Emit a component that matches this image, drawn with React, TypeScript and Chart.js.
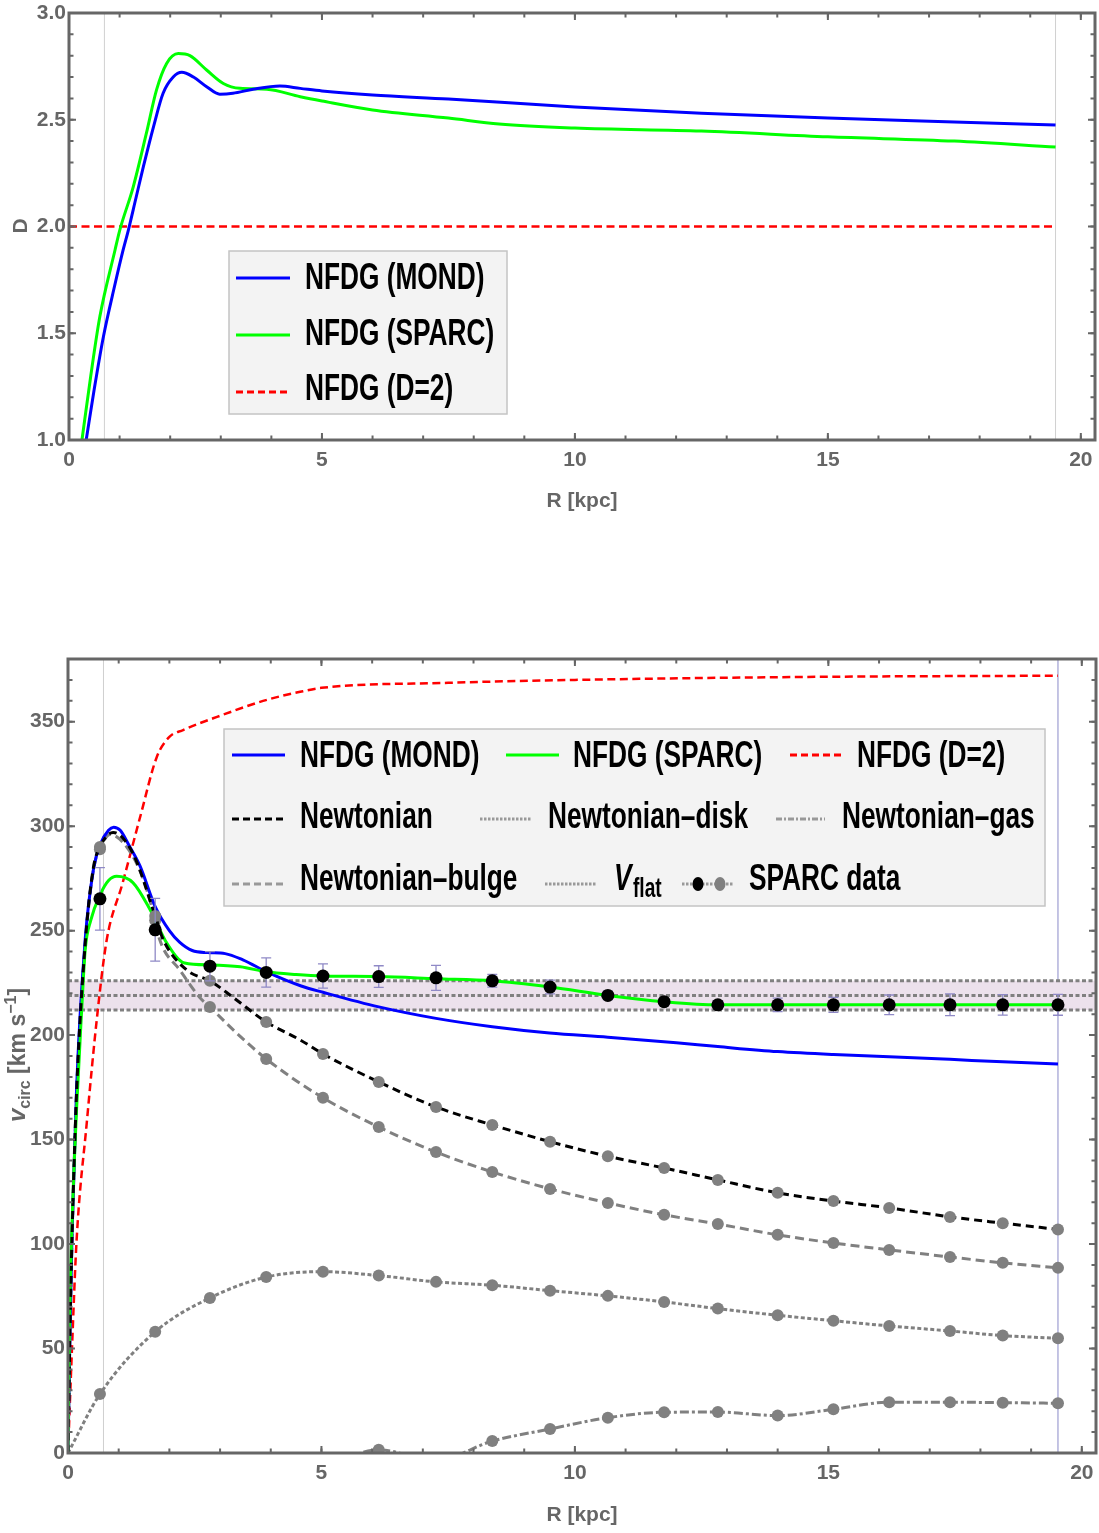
import React, { useEffect, useRef } from "react";
import { Chart, registerables } from "chart.js";

Chart.register(...registerables);

// ================= shared axis values =================
const X_MAX = 20.28;
const X_TICKS = [0, 5, 10, 15, 20];

// ================= TOP PANEL: D(R) =================
const R_MOND_D = [0.3, 0.34, 0.5, 0.68, 0.9, 1.07, 1.17, 1.32, 1.47, 1.67, 1.86, 2.06, 2.23, 2.46, 2.72, 2.98, 3.24, 3.64, 4.17, 4.57, 5, 6, 7.5, 10, 12.5, 15, 17.5, 19.5];
const D_MOND = [0.94, 1.0, 1.24, 1.484, 1.72, 1.89, 1.98, 2.13, 2.28, 2.467, 2.624, 2.7, 2.722, 2.7, 2.655, 2.62, 2.624, 2.643, 2.658, 2.647, 2.635, 2.616, 2.597, 2.56, 2.53, 2.508, 2.49, 2.475];
const R_SPARC_D = [0.22, 0.26, 0.43, 0.61, 0.91, 1.0, 1.27, 1.53, 1.73, 1.93, 2.16, 2.39, 2.72, 3.05, 3.38, 3.91, 4.57, 5, 6, 7.5, 8.5, 10, 12.5, 15, 17.5, 19.5];
const D_SPARC = [0.94, 1.007, 1.3, 1.578, 1.89, 1.98, 2.186, 2.437, 2.64, 2.764, 2.81, 2.8, 2.733, 2.67, 2.647, 2.643, 2.608, 2.588, 2.546, 2.508, 2.48, 2.461, 2.447, 2.42, 2.4, 2.372];
const R_D2_TOP = [0, 19.5];
const D_D2_TOP = [2, 2];
const D_TICKS = [1.0, 1.5, 2.0, 2.5, 3.0];
const TOP_GRID_R = [0.7, 19.5];

// ================= BOTTOM PANEL: v_circ(R) =================
const R_DATA = [0.63, 1.72, 2.8, 3.91, 5.03, 6.13, 7.26, 8.37, 9.51, 10.65, 11.76, 12.82, 14.0, 15.1, 16.2, 17.4, 18.44, 19.53];
const V_OBS = [265.2, 250.4, 233, 230, 228.3, 228, 227.4, 226, 223, 219, 216, 214.5, 214.5, 214.5, 214.5, 214.5, 214.5, 214.5];
const V_ERR = [15, 15, 7, 7, 5.8, 5.2, 6, 3, 3.3, 2, 1.5, 2, 3.2, 3.6, 4.7, 5.2, 4.9, 5];
const V_NEWTON = [290, 257, 226, 206.3, 191, 177.6, 165.6, 157, 149, 142, 136.4, 130.7, 124.5, 120.6, 117.3, 113, 110, 107];
const V_BULGE = [289, 255, 213.5, 188.6, 170, 156, 144, 134.5, 126.4, 119.7, 114, 109.6, 104.4, 100.5, 97.2, 93.8, 91, 88.6];
const V_DISK = [28.2, 58, 74.2, 84.2, 86.8, 84.9, 81.9, 80.3, 77.7, 75.2, 72.3, 69.1, 65.9, 63.3, 60.8, 58.4, 56.2, 54.9];
const V_GAS = [-8, -14, -16, -14, -7, 1.5, -3.5, 5.7, 11.5, 16.9, 19.5, 19.6, 17.9, 20.9, 24.3, 24.3, 24.1, 23.8];

// interpolating curve points (no markers)
const NEWTON_CURVE_R = [0, 0.04, 0.08, 0.17, 0.34, 0.5, 0.89, 1.28, 1.88, 2.35, 3.26, 4.58];
const NEWTON_CURVE_V = [0, 60, 104, 173, 244, 280, 297, 287, 245.6, 231, 218, 197.7];
const BULGE_CURVE_R = [0, 0.04, 0.08, 0.17, 0.34, 0.5, 0.83, 1.16, 1.48, 1.81, 2.21, 2.6, 3.26];
const BULGE_CURVE_V = [0, 60, 103, 172, 243, 279, 296, 290, 275, 245.6, 231, 218, 202.5];
const DISK_CURVE_R = [0];
const DISK_CURVE_V = [0];

const R_MOND_V = [0, 0.04, 0.08, 0.17, 0.34, 0.5, 0.63, 0.8, 0.9, 1.03, 1.2, 1.42, 1.72, 2.0, 2.2, 2.45, 2.75, 3.1, 3.45, 3.94, 4.6, 5.03, 6.13, 7.26, 8.37, 9.5, 10.65, 12.0, 12.82, 14.0, 15.1, 16.2, 17.4, 18.44, 19.53];
const V_MOND = [0, 60, 105, 175, 246, 279, 291, 298, 299.5, 298, 291, 281, 261.5, 250, 244.5, 240.5, 239.5, 239, 236, 230, 223.5, 220.5, 213.5, 208, 204, 201, 199, 196.3, 194.5, 192.1, 190.7, 189.7, 188.4, 187.2, 186.2];
const R_SPARC_V = [0, 0.03, 0.07, 0.17, 0.27, 0.34, 0.45, 0.63, 0.8, 0.96, 1.28, 1.62, 1.95, 2.3, 2.8, 3.4, 3.91, 4.5, 5.03, 6.13, 7.26, 8.37, 9.51, 10.65, 11.76, 12.82, 14, 16, 18, 19.53];
const V_SPARC = [0, 60, 102, 165, 212, 241, 255, 267, 274, 276, 273, 260, 244, 234.5, 233.6, 232.7, 230.3, 229, 228.3, 228, 227, 226, 223, 219, 216, 214.5, 214.5, 214.5, 214.5, 214.5];
const R_D2_V = [0, 0.08, 0.17, 0.37, 0.57, 0.76, 1.08, 1.43, 1.75, 2.0, 2.27, 2.94, 3.93, 4.58, 5.0, 7.5, 10, 15, 19.53];
const V_D2 = [0, 51, 102, 158, 208, 245, 273, 305, 333, 342.7, 346, 352.3, 360.5, 364.3, 366.2, 368.6, 370, 371.5, 372];

const V_FLAT = 219;
const V_FLAT_ERR = 7;
const V_MAX = 380;
const V_TICKS = [0, 50, 100, 150, 200, 250, 300, 350];
const BOT_GRID_R = [0.7];
const BOT_LAST_R = [19.53];

// ================= styles =================
const BLUE = "#0000ff";
const GREEN = "#00ff00";
const RED = "#ff0000";
const GRAY = "#808080";
const FRAME = "#666666";
const FAM = "'Liberation Sans', Arial, sans-serif";
const TICKFONT = { family: FAM, size: 21, weight: "bold" as const };
const LEG_FONT = "bold 37px " + FAM;
const LEG_SX = 0.71;

const pts = (xs: number[], ys: number[]) => xs.map((x, i) => ({ x, y: ys[i] }));
const merged = (cr: number[], cv: number[], dr: number[], dv: number[]) =>
  [...cr.map((x, i) => ({ x, y: cv[i], m: false })), ...dr.map((x, i) => ({ x, y: dv[i], m: true }))].sort((a, b) => a.x - b.x);

type Sample = { color: string; width: number; dash: number[]; dots?: [number, string][] };
type LegItem = { x0: number; x1: number; y: number; tx: number; ty: number; text: string; sample: Sample; sub?: string };
type Legend = { box: [number, number, number, number]; items: LegItem[] };

function drawLegend(ctx: CanvasRenderingContext2D, leg: Legend) {
  ctx.save();
  const [bx, by, bw, bh] = leg.box;
  ctx.fillStyle = "#f3f3f3";
  ctx.fillRect(bx, by, bw, bh);
  ctx.strokeStyle = "#c4c4c4";
  ctx.lineWidth = 1.5;
  ctx.strokeRect(bx, by, bw, bh);
  for (const it of leg.items) {
    const s = it.sample;
    ctx.save();
    ctx.strokeStyle = s.color;
    ctx.lineWidth = s.width;
    ctx.setLineDash(s.dash);
    ctx.beginPath();
    ctx.moveTo(it.x0, it.y);
    ctx.lineTo(it.x1, it.y);
    ctx.stroke();
    ctx.setLineDash([]);
    if (s.dots) {
      for (const [dx, c] of s.dots) {
        ctx.fillStyle = c;
        ctx.beginPath();
        ctx.ellipse(dx, it.y, 5.5, 7, 0, 0, Math.PI * 2);
        ctx.fill();
      }
    }
    ctx.restore();
    ctx.save();
    ctx.fillStyle = "#000";
    ctx.textBaseline = "alphabetic";
    ctx.textAlign = "left";
    ctx.translate(it.tx, it.ty);
    ctx.scale(LEG_SX, 1);
    if (it.sub) {
      ctx.font = "italic " + LEG_FONT;
      ctx.fillText(it.text, 0, 0);
      const w = ctx.measureText(it.text).width;
      ctx.font = "bold 27px " + FAM;
      ctx.fillText(it.sub, w + 2, 7);
    } else {
      ctx.font = LEG_FONT;
      ctx.fillText(it.text, 0, 0);
    }
    ctx.restore();
  }
  ctx.restore();
}

type Part = { t: string; font: string; dy: number };
function drawRich(ctx: CanvasRenderingContext2D, parts: Part[], cx: number, base: number) {
  let w = 0;
  for (const p of parts) {
    ctx.font = p.font;
    w += ctx.measureText(p.t).width;
  }
  let x = cx - w / 2;
  for (const p of parts) {
    ctx.font = p.font;
    ctx.fillText(p.t, x, base + p.dy);
    x += ctx.measureText(p.t).width;
  }
}

type Deco = {
  grid: { r: number; color: string }[];
  xMinorStep: number;
  yMinorStep: number;
  xMajor: number[];
  yMajor: number[];
  legend: Legend;
  xTitleY: number;
  yTitle: { x: number; y: number; parts: Part[] };
  errIndex?: number;
};

function decoPlugin(d: Deco) {
  return {
    id: "deco",
    beforeDatasetsDraw(chart: any) {
      const { ctx, chartArea: a, scales } = chart;
      ctx.save();
      for (const g of d.grid) {
        const px = scales.x.getPixelForValue(g.r);
        ctx.strokeStyle = g.color;
        ctx.lineWidth = 1;
        ctx.beginPath();
        ctx.moveTo(px, a.top);
        ctx.lineTo(px, a.bottom);
        ctx.stroke();
      }
      ctx.restore();
    },
    beforeDatasetDraw(chart: any, args: any) {
      if (d.errIndex === undefined || args.index !== d.errIndex) return;
      const { ctx, scales } = chart;
      ctx.save();
      ctx.strokeStyle = "#8f89c6";
      ctx.lineWidth = 1.3;
      R_DATA.forEach((r, i) => {
        const px = scales.x.getPixelForValue(r);
        const y1 = scales.y.getPixelForValue(V_OBS[i] + V_ERR[i]);
        const y2 = scales.y.getPixelForValue(V_OBS[i] - V_ERR[i]);
        ctx.beginPath();
        ctx.moveTo(px, y1);
        ctx.lineTo(px, y2);
        ctx.moveTo(px - 5, y1);
        ctx.lineTo(px + 5, y1);
        ctx.moveTo(px - 5, y2);
        ctx.lineTo(px + 5, y2);
        ctx.stroke();
      });
      ctx.restore();
    },
    afterDraw(chart: any) {
      const { ctx, chartArea: a, scales } = chart;
      const xs = scales.x;
      const ys = scales.y;
      drawLegend(ctx, d.legend);
      ctx.save();
      // frame
      ctx.strokeStyle = FRAME;
      ctx.lineWidth = 3;
      ctx.strokeRect(a.left, a.top, a.right - a.left, a.bottom - a.top);
      // ticks
      ctx.lineWidth = 2;
      const xTick = (v: number, len: number) => {
        const px = xs.getPixelForValue(v);
        ctx.beginPath();
        ctx.moveTo(px, a.bottom);
        ctx.lineTo(px, a.bottom - len);
        ctx.moveTo(px, a.top);
        ctx.lineTo(px, a.top + len);
        ctx.stroke();
      };
      const yTick = (v: number, len: number) => {
        const py = ys.getPixelForValue(v);
        ctx.beginPath();
        ctx.moveTo(a.left, py);
        ctx.lineTo(a.left + len, py);
        ctx.moveTo(a.right, py);
        ctx.lineTo(a.right - len, py);
        ctx.stroke();
      };
      for (let v = xs.min; v <= xs.max + 1e-9; v += d.xMinorStep) xTick(v, 4.5);
      for (const v of d.xMajor) xTick(v, 7);
      const n = Math.round((ys.max - ys.min) / d.yMinorStep);
      for (let k = 0; k <= n; k++) yTick(ys.min + k * d.yMinorStep, 4.5);
      for (const v of d.yMajor) yTick(v, 7);
      // titles
      ctx.fillStyle = "#666";
      ctx.textAlign = "left";
      ctx.textBaseline = "alphabetic";
      drawRich(ctx, [{ t: "R [kpc]", font: "bold 21px " + FAM, dy: 0 }], (a.left + a.right) / 2, d.xTitleY);
      ctx.translate(d.yTitle.x, d.yTitle.y);
      ctx.rotate(-Math.PI / 2);
      drawRich(ctx, d.yTitle.parts, 0, 8);
      ctx.restore();
    },
  };
}

function baseOptions(xAxisH: number, yAxisW: number, pad: any, yMin: number, yMax: number, yTicks: number[], yFmt: (v: number) => string) {
  return {
    responsive: false,
    animation: false as const,
    devicePixelRatio: 1,
    events: [],
    layout: { padding: pad, autoPadding: false },
    plugins: { legend: { display: false }, tooltip: { enabled: false }, title: { display: false } },
    scales: {
      x: {
        type: "linear" as const,
        min: 0,
        max: X_MAX,
        border: { display: false },
        grid: { display: false, drawTicks: false },
        afterBuildTicks: (s: any) => {
          s.ticks = X_TICKS.map((v) => ({ value: v }));
        },
        afterFit: (s: any) => {
          s.height = xAxisH;
          s.paddingLeft = 0;
          s.paddingRight = 0;
        },
        ticks: { color: "#666", font: TICKFONT, padding: 8, maxRotation: 0, autoSkip: false, callback: (v: any) => String(v) },
      },
      y: {
        type: "linear" as const,
        min: yMin,
        max: yMax,
        border: { display: false },
        grid: { display: false, drawTicks: false },
        afterBuildTicks: (s: any) => {
          s.ticks = yTicks.map((v) => ({ value: v }));
        },
        afterFit: (s: any) => {
          s.width = yAxisW;
          s.paddingTop = 0;
          s.paddingBottom = 0;
        },
        ticks: { color: "#666", font: TICKFONT, padding: 3, autoSkip: false, callback: (v: any) => yFmt(Number(v)) },
      },
    },
  };
}

const lineDs = (data: any[], color: string, width: number, dash: number[], extra: any = {}) => ({
  data,
  borderColor: color,
  backgroundColor: color,
  borderWidth: width,
  borderDash: dash,
  pointRadius: 0,
  fill: false,
  cubicInterpolationMode: "monotone" as const,
  ...extra,
});

const markerDs = (data: any[], color: string, dash: number[]) =>
  lineDs(data, color, 3, dash, {
    pointRadius: (c: any) => (c.raw && c.raw.m ? 6 : 0),
    pointBackgroundColor: GRAY,
    pointBorderColor: GRAY,
    pointBorderWidth: 0,
  });

const TOP_LEGEND: Legend = {
  box: [229, 251, 278, 163],
  items: [
    { x0: 236, x1: 290, y: 278, tx: 305, ty: 289, text: "NFDG (MOND)", sample: { color: BLUE, width: 3, dash: [] } },
    { x0: 236, x1: 290, y: 335, tx: 305, ty: 345, text: "NFDG (SPARC)", sample: { color: GREEN, width: 3, dash: [] } },
    { x0: 236, x1: 290, y: 392, tx: 305, ty: 400, text: "NFDG (D=2)", sample: { color: RED, width: 3, dash: [7, 4] } },
  ],
};

const BO = 600; // bottom canvas offset on the page
const BOT_LEGEND: Legend = {
  box: [224, 729 - BO, 821, 177],
  items: [
    { x0: 232, x1: 285, y: 755 - BO, tx: 300, ty: 767 - BO, text: "NFDG (MOND)", sample: { color: BLUE, width: 3, dash: [] } },
    { x0: 506, x1: 559, y: 755 - BO, tx: 573, ty: 767 - BO, text: "NFDG (SPARC)", sample: { color: GREEN, width: 3, dash: [] } },
    { x0: 790, x1: 842, y: 755 - BO, tx: 857, ty: 767 - BO, text: "NFDG (D=2)", sample: { color: RED, width: 3, dash: [7, 4] } },
    { x0: 232, x1: 284, y: 819 - BO, tx: 300, ty: 828 - BO, text: "Newtonian", sample: { color: "#000", width: 3, dash: [7, 4] } },
    { x0: 480, x1: 531, y: 819 - BO, tx: 548, ty: 828 - BO, text: "Newtonian–disk", sample: { color: "#999", width: 3, dash: [2.5, 1.5] } },
    { x0: 776, x1: 825, y: 819 - BO, tx: 842, ty: 828 - BO, text: "Newtonian–gas", sample: { color: "#999", width: 3, dash: [6, 2, 2, 2] } },
    { x0: 232, x1: 284, y: 884 - BO, tx: 300, ty: 890 - BO, text: "Newtonian–bulge", sample: { color: "#999", width: 3, dash: [7, 4] } },
    { x0: 545, x1: 597, y: 884 - BO, tx: 614, ty: 890 - BO, text: "V", sub: "flat", sample: { color: "#999", width: 3, dash: [2.5, 1.5] } },
    { x0: 682, x1: 733, y: 884 - BO, tx: 749, ty: 890 - BO, text: "SPARC data", sample: { color: "#999", width: 3, dash: [2.5, 1.5], dots: [[698, "#000"], [720, GRAY]] } },
  ],
};

function TopChart() {
  const ref = useRef<HTMLCanvasElement>(null);
  useEffect(() => {
    if (!ref.current) return;
    const chart = new Chart(ref.current, {
      type: "line",
      data: {
        datasets: [
          lineDs(pts(R_MOND_D, D_MOND), BLUE, 3, []),
          lineDs(pts(R_SPARC_D, D_SPARC), GREEN, 3, []),
          lineDs(pts(R_D2_TOP, D_D2_TOP), RED, 2.5, [8, 4.5]),
        ],
      },
      options: baseOptions(90, 69, { top: 13, right: 4, left: 0, bottom: 0 }, 1, 3, D_TICKS, (v) => v.toFixed(1)) as any,
      plugins: [
        decoPlugin({
          grid: TOP_GRID_R.map((r) => ({ r, color: "#d0d0d0" })),
          xMinorStep: 1,
          yMinorStep: 0.1,
          xMajor: X_TICKS,
          yMajor: D_TICKS,
          legend: TOP_LEGEND,
          xTitleY: 507,
          yTitle: { x: 19, y: 226, parts: [{ t: "D", font: "bold 21px " + FAM, dy: 0 }] },
        }),
      ],
    });
    return () => chart.destroy();
  }, []);
  return <canvas ref={ref} width={1099} height={530} style={{ position: "absolute", left: 0, top: 0 }} />;
}

function BottomChart() {
  const ref = useRef<HTMLCanvasElement>(null);
  useEffect(() => {
    if (!ref.current) return;
    const flatHi = V_FLAT + V_FLAT_ERR;
    const flatLo = V_FLAT - V_FLAT_ERR;
    const chart = new Chart(ref.current, {
      type: "line",
      data: {
        datasets: [
          {
            data: pts(R_DATA, V_OBS),
            showLine: false,
            pointRadius: 6.5,
            pointBackgroundColor: "#000",
            pointBorderColor: "#000",
            pointBorderWidth: 0,
            borderColor: "#000",
            backgroundColor: "#000",
          },
          markerDs(merged(NEWTON_CURVE_R, NEWTON_CURVE_V, R_DATA, V_NEWTON), "#000", [8, 5]),
          lineDs(pts(R_SPARC_V, V_SPARC), GREEN, 3, []),
          lineDs(pts(R_MOND_V, V_MOND), BLUE, 3, []),
          markerDs(merged(BULGE_CURVE_R, BULGE_CURVE_V, R_DATA, V_BULGE), GRAY, [9, 5]),
          markerDs(merged(DISK_CURVE_R, DISK_CURVE_V, R_DATA, V_DISK), GRAY, [4, 2.5]),
          markerDs(merged([], [], R_DATA, V_GAS), GRAY, [9, 3, 3, 3]),
          lineDs(pts(R_D2_V, V_D2), RED, 2.5, [8, 4.5]),
          lineDs(pts([0, X_MAX], [V_FLAT, V_FLAT]), GRAY, 3, [4, 2.5], { cubicInterpolationMode: "default" }),
          lineDs(pts([0, X_MAX], [flatLo, flatLo]), GRAY, 3, [4, 2.5], { cubicInterpolationMode: "default" }),
          lineDs(pts([0, X_MAX], [flatHi, flatHi]), GRAY, 3, [4, 2.5], { fill: "-1", backgroundColor: "rgb(236,225,236)", cubicInterpolationMode: "default" }),
        ],
      },
      options: baseOptions(80, 68, { top: 59, right: 3, left: 0, bottom: 0 }, 0, V_MAX, V_TICKS, (v) => String(v)) as any,
      plugins: [
        decoPlugin({
          grid: [...BOT_GRID_R.map((r) => ({ r, color: "#cfcfcf" })), ...BOT_LAST_R.map((r) => ({ r, color: "#8a8ac8" }))],
          xMinorStep: 1,
          yMinorStep: 10,
          xMajor: X_TICKS,
          yMajor: V_TICKS,
          legend: BOT_LEGEND,
          xTitleY: 1521 - BO,
          errIndex: 0,
          yTitle: {
            x: 17,
            y: 1055 - BO,
            parts: [
              { t: "v", font: "italic bold 24px " + FAM, dy: 0 },
              { t: "circ", font: "bold 16px " + FAM, dy: 5 },
              { t: " [km s", font: "bold 23px " + FAM, dy: 0 },
              { t: "−1", font: "bold 16px " + FAM, dy: -9 },
              { t: "]", font: "bold 23px " + FAM, dy: 0 },
            ],
          },
        }),
      ],
    });
    return () => chart.destroy();
  }, []);
  return <canvas ref={ref} width={1099} height={933} style={{ position: "absolute", left: 0, top: BO }} />;
}

export default function App() {
  return (
    <div style={{ position: "absolute", left: 0, top: 0, width: 1099, height: 1533, background: "#fff", overflow: "hidden" }}>
      <TopChart />
      <BottomChart />
    </div>
  );
}
